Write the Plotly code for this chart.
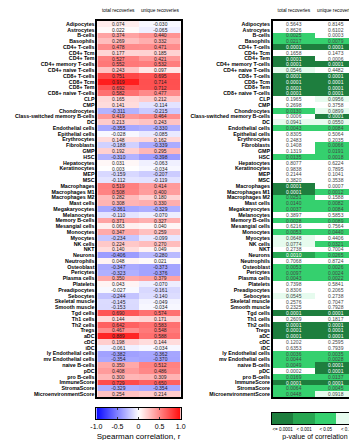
import plotly.graph_objects as go

cell_types = [
    "Adipocytes", "Astrocytes", "B-cells", "Basophils", "CD4+ T-cells", "CD4+ Tcm",
    "CD4+ Tem", "CD4+ memory T-cells", "CD4+ naive T-cells", "CD8+ T-cells", "CD8+ Tcm",
    "CD8+ Tem", "CD8+ naive T-cells", "CLP", "CMP", "Chondrocytes",
    "Class-switched memory B-cells", "DC", "Endothelial cells", "Epithelial cells",
    "Erythrocytes", "Fibroblasts", "GMP", "HSC", "Hepatocytes", "Keratinocytes", "MEP",
    "MSC", "Macrophages", "Macrophages M1", "Macrophages M2", "Mast cells",
    "Megakaryocytes", "Melanocytes", "Memory B-cells", "Mesangial cells", "Monocytes",
    "Myocytes", "NK cells", "NKT", "Neurons", "Neutrophils", "Osteoblast", "Pericytes",
    "Plasma cells", "Platelets", "Preadipocytes", "Sebocytes", "Skeletal muscle",
    "Smooth muscle", "Tgd cells", "Th1 cells", "Th2 cells", "Tregs", "aDC", "cDC", "iDC",
    "ly Endothelial cells", "mv Endothelial cells", "naive B-cells", "pDC", "pro B-cells",
    "ImmuneScore", "StromaScore", "MicroenvironmentScore",
]
columns = ["total recoveries", "unique recoveries"]

rho_total = [
    0.074, 0.022, 0.374, 0.269, 0.478, 0.177, 0.527, 0.552, 0.243, 0.751, 0.919,
    0.692, 0.582, 0.165, 0.141, -0.311, 0.419, 0.213, -0.355, -0.028, 0.148, -0.188,
    0.192, -0.310, 0.031, 0.003, -0.159, -0.112, 0.519, 0.508, 0.282, 0.308, -0.361,
    -0.110, 0.371, 0.063, 0.347, -0.234, 0.224, 0.140, -0.406, 0.048, -0.347, -0.323,
    0.350, 0.043, -0.027, -0.244, -0.145, -0.153, 0.690, 0.144, 0.642, 0.467, 0.889,
    0.198, -0.061, -0.382, -0.354, 0.350, 0.408, 0.300, 0.729, -0.329, 0.254,
]
rho_unique = [
    -0.030, -0.065, 0.440, 0.332, 0.471, 0.185, 0.421, 0.532, 0.097, 0.695, 0.714,
    0.712, 0.477, 0.212, -0.114, -0.215, 0.464, 0.243, -0.330, -0.085, 0.162, -0.339,
    0.295, -0.398, -0.063, -0.034, -0.207, -0.119, 0.414, 0.400, 0.180, 0.330, -0.329,
    -0.070, 0.327, 0.040, 0.259, -0.099, 0.270, 0.049, -0.280, 0.021, -0.373, -0.376,
    0.379, -0.070, -0.161, -0.140, -0.049, -0.034, 0.574, 0.171, 0.583, 0.548, 0.588,
    0.144, -0.034, -0.362, -0.370, 0.512, 0.486, 0.309, 0.650, -0.354, 0.214,
]
p_total = [
    0.5643, 0.8626, 0.0025, 0.0217, 0.0001, 0.1658, 0.0001, 0.0001, 0.0546, 0.0001,
    0.0001, 0.0001, 0.0001, 0.1965, 0.2698, 0.0130, 0.0006, 0.0941, 0.0043, 0.8305,
    0.2483, 0.1408, 0.1319, 0.0135, 0.8077, 0.9838, 0.2144, 0.3820, 0.0001, 0.0001,
    0.0251, 0.0140, 0.0037, 0.3897, 0.0028, 0.6216, 0.0053, 0.0648, 0.0774, 0.2738,
    0.0010, 0.7068, 0.0053, 0.0097, 0.0043, 0.7398, 0.8306, 0.0545, 0.2576, 0.2325,
    0.0001, 0.2609, 0.0001, 0.0001, 0.0001, 0.1202, 0.6353, 0.0036, 0.0044, 0.0049,
    0.0002, 0.0169, 0.0001, 0.0064, 0.0448,
]
p_unique = [
    0.8145, 0.6102, 0.0003, 0.0079, 0.0001, 0.1473, 0.0006, 0.0001, 0.4482, 0.0001,
    0.0001, 0.0001, 0.0001, 0.0956, 0.3758, 0.0899, 0.0001, 0.0550, 0.0084, 0.5064,
    0.2035, 0.0066, 0.0191, 0.0018, 0.6224, 0.7895, 0.1041, 0.3538, 0.0007, 0.0012,
    0.1588, 0.0082, 0.0084, 0.5853, 0.0089, 0.7564, 0.0440, 0.4406, 0.0321, 0.7004,
    0.0265, 0.8724, 0.0026, 0.0024, 0.0022, 0.5841, 0.2065, 0.2738, 0.7047, 0.7928,
    0.0001, 0.1817, 0.0001, 0.0001, 0.0001, 0.2595, 0.7939, 0.0035, 0.0028, 0.0001,
    0.0001, 0.0137, 0.0001, 0.0045, 0.0918,
]
p_bins = ["<= 0.0001", "< 0.001", "< 0.05", "< 0.10"]
corr_ticks = [-1, -0.5, 0, 0.5, 1]
corr_tick_labels = ["-1.0", "-0.5", "0", "0.5", "1.0"]

p_colors = ["#1e7e3e", "#27a651", "#35d06e", "#e6fbee", "#ffffff"]
corr_scale = [[0, "#0a0aff"], [0.5, "#ffffff"], [1, "#ff0a0a"]]


def p_class(p):
    if p <= 0.0001:
        return 0
    if p < 0.001:
        return 4  # left uncoloured in the reference
    if p <= 0.001:
        return 1
    if p < 0.05:
        return 2
    if p < 0.10:
        return 3
    return 4


p_scale = []
for i, c in enumerate(p_colors):
    p_scale += [[i / len(p_colors), c], [(i + 1) / len(p_colors), c]]

W, H = 357, 440


def px_x(v):
    return v / W


def px_y(v):
    return 1 - v / H


z_rho = [[a, b] for a, b in zip(rho_total, rho_unique)]
t_rho = [[f"{a:.3f}", f"{b:.3f}"] for a, b in zip(rho_total, rho_unique)]
z_p = [[p_class(a), p_class(b)] for a, b in zip(p_total, p_unique)]
t_p = [[f"{a:.4f}", f"{b:.4f}"] for a, b in zip(p_total, p_unique)]

fig = go.Figure()

fig.add_trace(go.Heatmap(
    z=z_rho, x=columns, y=cell_types, text=t_rho, texttemplate="%{text}",
    textfont=dict(size=5, color="#222222"),
    colorscale=corr_scale, zmin=-1, zmax=1, showscale=False,
    hoverinfo="skip", xaxis="x", yaxis="y",
))

fig.add_trace(go.Heatmap(
    z=z_p, x=columns, y=cell_types, text=t_p, texttemplate="%{text}",
    textfont=dict(size=5),
    colorscale=p_scale, zmin=-0.5, zmax=len(p_colors) - 0.5, showscale=False,
    hoverinfo="skip", xaxis="x2", yaxis="y2",
))

# p-value legend strip
fig.add_trace(go.Heatmap(
    z=[list(range(len(p_bins)))], x=p_bins, y=["p"],
    colorscale=p_scale, zmin=-0.5, zmax=len(p_colors) - 0.5, showscale=False,
    hoverinfo="skip", xaxis="x3", yaxis="y3",
))

# correlation colour key (smoothly interpolated between the tick values)
fig.add_trace(go.Heatmap(
    z=[corr_ticks], x=corr_ticks, y=["r"], zsmooth="best",
    colorscale=corr_scale, zmin=-1, zmax=1, showscale=False,
    hoverinfo="skip", xaxis="x4", yaxis="y4",
))

ydom = [px_y(389), px_y(13)]
xaxis_common = dict(side="top", ticks="", tickfont=dict(size=4.8), showline=True,
                    mirror=True, linecolor="black", linewidth=1.5, ticklabelstandoff=5,
                    tickmode="array", tickvals=columns, ticktext=columns,
                    showgrid=False, zeroline=False, fixedrange=True)
yaxis_common = dict(autorange="reversed", ticks="", showline=True, mirror=True,
                    linecolor="black", linewidth=1.5, showgrid=False, zeroline=False,
                    tickmode="array", tickvals=cell_types, ticktext=cell_types,
                    tickfont=dict(size=5.3, weight="bold"), fixedrange=True)

fig.update_layout(
    width=W, height=H, margin=dict(l=0, r=0, t=0, b=0),
    paper_bgcolor="white", plot_bgcolor="white",
    font=dict(family="Liberation Sans, Arial, sans-serif", color="black"),
    xaxis=dict(domain=[px_x(86), px_x(172)], anchor="y", **xaxis_common),
    yaxis=dict(domain=ydom, anchor="x", **yaxis_common),
    xaxis2=dict(domain=[px_x(267), px_x(354)], anchor="y2", **xaxis_common),
    yaxis2=dict(domain=ydom, anchor="x2", **yaxis_common),
    xaxis3=dict(domain=[px_x(266), px_x(355)], anchor="y3", side="bottom", ticks="",
                tickmode="array", tickvals=p_bins, ticktext=p_bins,
                tickfont=dict(size=4.5), showline=True, mirror=True, linecolor="black",
                linewidth=1, showgrid=False, zeroline=False, ticklabelstandoff=1,
                title=dict(text="p-value of correlation", font=dict(size=7), standoff=2),
                fixedrange=True),
    yaxis3=dict(domain=[px_y(416), px_y(405)], anchor="x3", showticklabels=False,
                ticks="", showline=True, mirror=True, linecolor="black", linewidth=1,
                showgrid=False, zeroline=False, fixedrange=True),
    xaxis4=dict(domain=[px_x(85), px_x(172)], anchor="y4", side="bottom",
                range=[-1, 1], tickmode="array", tickvals=corr_ticks,
                ticktext=corr_tick_labels, tickfont=dict(size=7),
                ticks="inside", ticklen=2, tickcolor="#333", mirror="allticks",
                showline=True, linecolor="black", linewidth=1, showgrid=False,
                zeroline=False, ticklabelstandoff=1,
                title=dict(text="Spearman correlation, r", font=dict(size=8), standoff=3),
                fixedrange=True),
    yaxis4=dict(domain=[px_y(411), px_y(400)], anchor="x4", showticklabels=False,
                ticks="", showline=True, mirror=True, linecolor="black", linewidth=1,
                showgrid=False, zeroline=False, fixedrange=True),
)

fig.write_html("out.html")
